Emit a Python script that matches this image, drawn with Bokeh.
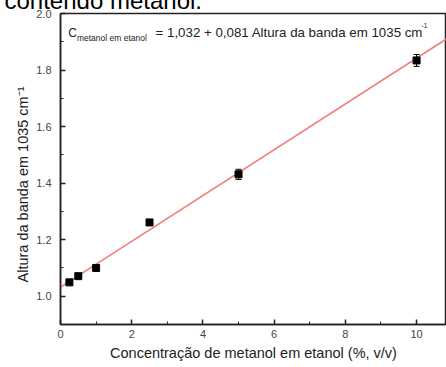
import numpy as np
from bokeh.plotting import figure
from bokeh.models import Label, Title, Whisker, ColumnDataSource, SingleIntervalTicker, Range1d, CustomJSTickFormatter
from bokeh.embed import file_html
from bokeh.resources import INLINE

# data
conc = [0.25, 0.5, 1.0, 2.5, 5.0, 10.0]
altura = [1.049, 1.071, 1.100, 1.261, 1.431, 1.834]
erro = [0.006, 0.006, 0.006, 0.006, 0.018, 0.021]
fit_intercept = 1.032
fit_slope = 0.081
fit_x = [0.0, 11.0]
caption = "contendo metanol."
x_title = "Concentração de metanol em etanol (%, v/v)"
y_title = "Altura da banda em 1035 cm⁻¹"
eq_c = "C"
eq_sub = "metanol em etanol"
eq_text = "= 1,032 + 0,081 Altura da banda em 1035 cm"
eq_sup = "-1"

FONT = "Liberation Sans"
SHIFT = 16

p = figure(width=446, height=367 + SHIFT, output_backend="svg", toolbar_location=None,
           x_range=Range1d(0, 10.84), y_range=Range1d(0.9, 2.0),
           min_border_left=60, min_border_right=0, min_border_top=0, min_border_bottom=43)
p.styles = {"margin-top": f"-{SHIFT}px"}
p.grid.visible = False
p.background_fill_color = "white"
p.border_fill_color = "white"
p.outline_line_color = "#222222"
p.outline_line_width = 1.5

# caption fragment at top (cut by the page edge as in the reference)
p.title.text = caption
p.title.align = "left"
p.title.offset = -56
p.title.standoff = 0
p.title.text_font = FONT
p.title.text_font_size = "24px"
p.title.text_font_style = "normal"
p.title.text_color = "black"

src = ColumnDataSource(dict(x=conc, y=altura,
                            lo=[a - e for a, e in zip(altura, erro)],
                            hi=[a + e for a, e in zip(altura, erro)]))

fy = [fit_intercept + fit_slope * xx for xx in fit_x]
p.line(fit_x, fy, line_color="#f47a7a", line_width=1.5)

w = Whisker(source=src, base="x", lower="lo", upper="hi", line_color="black", line_width=1)
w.upper_head.size = 6
w.lower_head.size = 6
w.upper_head.line_color = "black"
w.lower_head.line_color = "black"
p.add_layout(w)
p.scatter("x", "y", source=src, marker="square", size=7, fill_color="black", line_color="black")

for ax in (p.xaxis[0], p.yaxis[0]):
    ax.axis_line_width = 1.5
    ax.axis_line_color = "#222222"
    ax.major_tick_in = 5
    ax.major_tick_out = 0
    ax.minor_tick_in = 3
    ax.minor_tick_out = 0
    ax.major_tick_line_color = "#222222"
    ax.minor_tick_line_color = "#222222"
    ax.major_tick_line_width = 1.5
    ax.major_label_text_font = FONT
    ax.major_label_text_font_size = "11px"
    ax.major_label_text_color = "#444444"

p.xaxis[0].ticker = SingleIntervalTicker(interval=2, num_minor_ticks=2)
p.yaxis[0].ticker = SingleIntervalTicker(interval=0.2, num_minor_ticks=2)
p.yaxis[0].formatter = CustomJSTickFormatter(code="return tick.toFixed(1)")
p.xaxis[0].major_label_standoff = 5
p.yaxis[0].major_label_standoff = 9

p.xaxis[0].axis_label = x_title
p.xaxis[0].axis_label_text_font = FONT
p.xaxis[0].axis_label_text_font_size = "14.5px"
p.xaxis[0].axis_label_text_font_style = "normal"
p.xaxis[0].axis_label_text_color = "#222222"
p.xaxis[0].axis_label_standoff = 4

# y axis title as a side title (lets it sit below the frame centre as in the reference)
yt = Title(text=y_title, align="left", offset=42, standoff=6,
           text_font=FONT, text_font_size="14.5px", text_font_style="normal", text_color="#222222")
p.add_layout(yt, "left")

# equation
p.add_layout(Label(x=0.22, y=1.932, text=eq_c, text_baseline="middle",
                   text_font=FONT, text_font_size="12px", text_color="#222222"))
p.add_layout(Label(x=0.46, y=1.915, text=eq_sub, text_baseline="middle",
                   text_font=FONT, text_font_size="8.5px", text_color="#222222"))
p.add_layout(Label(x=2.67, y=1.932, text=eq_text, text_baseline="middle",
                   text_font=FONT, text_font_size="13.3px", text_color="#222222"))
p.add_layout(Label(x=10.14, y=1.957, text=eq_sup, text_baseline="middle",
                   text_font=FONT, text_font_size="6.5px", text_color="#222222"))

open("out.html", "w").write(file_html(p, INLINE))
